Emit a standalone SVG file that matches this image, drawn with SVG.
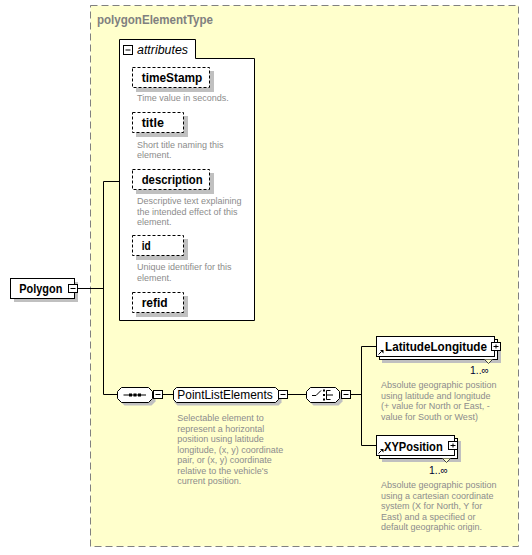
<svg xmlns="http://www.w3.org/2000/svg" width="532" height="555" viewBox="0 0 532 555">
<defs>
<style>
.lbl{font-family:"Liberation Sans",Arial,sans-serif;font-weight:bold;font-size:12px;fill:#000}
.reg{font-family:"Liberation Sans",Arial,sans-serif;font-size:12px;fill:#000}
.ita{font-family:"Liberation Sans",Arial,sans-serif;font-style:italic;font-size:12px;fill:#000}
.doc{font-family:"Liberation Sans",Arial,sans-serif;font-size:9px;fill:#8c8c8c}
.occ{font-family:"Liberation Sans",Arial,sans-serif;font-size:11px;fill:#000033}
.box{fill:#fff;stroke:#000;stroke-width:1}
.att{fill:#fff;stroke:#000;stroke-width:1;stroke-dasharray:3,2}
.sh{fill:#c0c0c0}
.ln{fill:none;stroke:#000;stroke-width:1}
</style>
</defs>
<rect width="532" height="555" fill="#fff"/>

<g id="polygonElementType">
<rect x="90.5" y="5.5" width="428" height="541" fill="#ffffcc" stroke="#808080" stroke-dasharray="7,4"/>
<text x="97" y="24" class="lbl" style="fill:#808080" textLength="116" lengthAdjust="spacingAndGlyphs">polygonElementType</text>
</g>

<g id="connectors" class="ln">
<path d="M78,288.5 H103.5"/>
<path d="M103.5,181.5 V394.5"/>
<path d="M103.5,181.5 H119.5"/>
<path d="M103.5,394.5 H117.5"/>
<path d="M162.5,394.5 H173.5"/>
<path d="M287.5,394.5 H306.5"/>
<path d="M350.5,394.5 H361.5"/>
<path d="M361.5,346.5 V445.5"/>
<path d="M361.5,346.5 H376.5"/>
<path d="M361.5,445.5 H376.5"/>
</g>

<g id="attributes">
<path d="M119.5,320.5 V39.5 H195.5 V58.5 H254.5 V320.5 Z" fill="#fff" stroke="#000"/>
<rect x="123.5" y="45.5" width="9" height="9" class="box"/>
<path d="M125.5,50 H130.5" class="ln"/>
<text x="137" y="54" class="ita" textLength="51" lengthAdjust="spacingAndGlyphs">attributes</text>
</g>

<g id="attr-timeStamp">
<rect x="136" y="71" width="78" height="21" class="sh"/>
<rect x="132.5" y="67.5" width="77" height="20" class="att"/>
<text x="141.7" y="82" class="lbl" textLength="60.6" lengthAdjust="spacingAndGlyphs">timeStamp</text>
<text x="137" y="101" class="doc">Time value in seconds.</text>
</g>

<g id="attr-title">
<rect x="136" y="116" width="52" height="21" class="sh"/>
<rect x="132.5" y="112.5" width="51" height="20" class="att"/>
<text x="141.7" y="127" class="lbl" textLength="22.3" lengthAdjust="spacingAndGlyphs">title</text>
<text x="137" y="147.5" class="doc">Short title naming this</text>
<text x="137" y="158" class="doc">element.</text>
</g>

<g id="attr-description">
<rect x="136" y="173" width="78" height="21" class="sh"/>
<rect x="132.5" y="169.5" width="77" height="20" class="att"/>
<text x="141.7" y="183.5" class="lbl" textLength="61" lengthAdjust="spacingAndGlyphs">description</text>
<text x="137" y="204" class="doc">Descriptive text explaining</text>
<text x="137" y="214.5" class="doc">the intended effect of this</text>
<text x="137" y="225" class="doc">element.</text>
</g>

<g id="attr-id">
<rect x="136" y="239" width="52" height="21" class="sh"/>
<rect x="132.5" y="235.5" width="51" height="20" class="att"/>
<text x="141.7" y="249.5" class="lbl" textLength="9" lengthAdjust="spacingAndGlyphs">id</text>
<text x="137" y="270" class="doc">Unique identifier for this</text>
<text x="137" y="280.5" class="doc">element.</text>
</g>

<g id="attr-refid">
<rect x="136" y="296" width="52" height="21" class="sh"/>
<rect x="132.5" y="292.5" width="51" height="20" class="att"/>
<text x="141.7" y="306.5" class="lbl" textLength="26" lengthAdjust="spacingAndGlyphs">refid</text>
</g>

<g id="Polygon">
<rect x="14" y="282" width="64" height="20" class="sh"/>
<rect x="10.5" y="278.5" width="64" height="20" class="box"/>
<text x="19.3" y="293.3" class="lbl" textLength="43" lengthAdjust="spacingAndGlyphs">Polygon</text>
<rect x="68.5" y="284.5" width="9" height="8" class="box"/>
<path d="M70.5,288.5 H75.5" class="ln"/>
</g>

<g id="sequence">
<path d="M124.5,390.5 H151.5 L155.5,394.5 V401.5 L151.5,405.5 H124.5 L120.5,401.5 V394.5 Z" class="sh"/>
<path d="M121.5,387.5 H148.5 L152.5,391.5 V398.5 L148.5,402.5 H121.5 L117.5,398.5 V391.5 Z" class="box"/>
<path d="M123.5,395 H146" class="ln"/>
<rect x="129" y="393.5" width="3" height="3" fill="#000"/>
<rect x="133.5" y="393.5" width="3" height="3" fill="#000"/>
<rect x="138" y="393.5" width="3" height="3" fill="#000"/>
<rect x="153.5" y="390.5" width="9" height="8" class="box"/>
<path d="M155.5,394.5 H160.5" class="ln"/>
</g>

<g id="PointListElements">
<path d="M177.5,390.5 H278.5 L281.5,393.5 V402.5 L278.5,405.5 H177.5 L174.5,402.5 V393.5 Z" class="sh"/>
<path d="M176.5,387.5 H275.5 L278.5,390.5 V399.5 L275.5,402.5 H176.5 L173.5,399.5 V390.5 Z" class="box"/>
<text x="177.3" y="399.3" class="reg" textLength="95.4" lengthAdjust="spacingAndGlyphs">PointListElements</text>
<rect x="278.5" y="390.5" width="9" height="8" class="box"/>
<path d="M280.5,394.5 H285.5" class="ln"/>
<text x="177.3" y="421" class="doc">Selectable element to</text>
<text x="177.3" y="431.5" class="doc">represent a horizontal</text>
<text x="177.3" y="442" class="doc">position using latitude</text>
<text x="177.3" y="452.5" class="doc">longitude, (x, y) coordinate</text>
<text x="177.3" y="463" class="doc">pair, or (x, y) coordinate</text>
<text x="177.3" y="473.5" class="doc">relative to the vehicle's</text>
<text x="177.3" y="484" class="doc">current position.</text>
</g>

<g id="choice">
<path d="M313.5,390.5 H338.5 L342.5,394.5 V401.5 L338.5,405.5 H313.5 L309.5,401.5 V394.5 Z" class="sh"/>
<path d="M310.5,387.5 H335.5 L339.5,391.5 V398.5 L335.5,402.5 H310.5 L306.5,398.5 V391.5 Z" class="box"/>
<path d="M312,395.5 H316 L321,390.5" class="ln"/>
<rect x="323" y="389.5" width="2" height="2" fill="#000"/>
<rect x="323" y="394" width="2" height="2" fill="#000"/>
<rect x="323" y="398.5" width="2" height="2" fill="#000"/>
<path d="M326.5,390.5 H330.5 M326.5,390.5 V399.5 H330.5 M326.5,395 H333" class="ln"/>
<rect x="341.5" y="390.5" width="9" height="8" class="box"/>
<path d="M343.5,394.5 H348.5" class="ln"/>
</g>

<g id="LatitudeLongitude">
<rect x="382" y="342" width="119" height="21" class="sh"/>
<rect x="379.5" y="339.5" width="118" height="20" class="box"/>
<rect x="376.5" y="336.5" width="118" height="20" class="box"/>
<text x="385" y="351" class="lbl" textLength="102" lengthAdjust="spacingAndGlyphs">LatitudeLongitude</text>
<path d="M378.5,354.5 L381.5,351.5" class="ln"/>
<path d="M380,350 H383.5 V353.5 Z" fill="#000"/>
<rect x="491.5" y="342.5" width="9" height="8" class="box"/>
<path d="M493.5,346.5 H498.5 M496,344.5 V348.5" class="ln"/>
<path d="M484.5,359.5 L488.5,363.5 L492.5,359.5" fill="#ffffcc" stroke="#404040"/>
<text x="470" y="374" class="occ" textLength="19" lengthAdjust="spacingAndGlyphs">1..∞</text>
<text x="381" y="388" class="doc">Absolute geographic position</text>
<text x="381" y="398.5" class="doc">using latitude and longitude</text>
<text x="381" y="409" class="doc">(+ value for North or East, -</text>
<text x="381" y="419.5" class="doc">value for South or West)</text>
</g>

<g id="XYPosition">
<rect x="382" y="441" width="79" height="21" class="sh"/>
<rect x="379.5" y="438.5" width="78" height="20" class="box"/>
<rect x="376.5" y="435.5" width="78" height="20" class="box"/>
<text x="384" y="450.5" class="lbl" textLength="58.7" lengthAdjust="spacingAndGlyphs">XYPosition</text>
<path d="M378.5,453.5 L381.5,450.5" class="ln"/>
<path d="M380,449 H383.5 V452.5 Z" fill="#000"/>
<rect x="448.5" y="441.5" width="9" height="8" class="box"/>
<path d="M450.5,445.5 H455.5 M453,443.5 V447.5" class="ln"/>
<path d="M442.5,458.5 L446.5,462.5 L450.5,458.5" fill="#ffffcc" stroke="#404040"/>
<text x="429" y="474" class="occ" textLength="19" lengthAdjust="spacingAndGlyphs">1..∞</text>
<text x="381" y="488" class="doc">Absolute geographic position</text>
<text x="381" y="498.5" class="doc">using a cartesian coordinate</text>
<text x="381" y="509" class="doc">system (X for North, Y for</text>
<text x="381" y="519.5" class="doc">East) and a specified or</text>
<text x="381" y="530" class="doc">default geographic origin.</text>
</g>
</svg>
